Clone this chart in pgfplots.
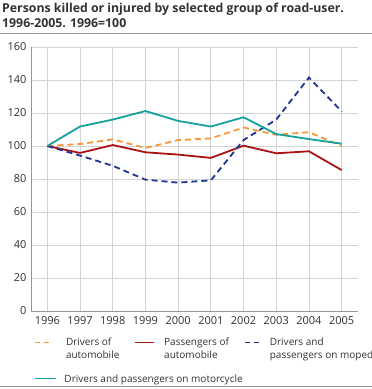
\documentclass[border=0pt]{standalone}
\usepackage{fontspec}
\setmainfont{Open Sans}
\usepackage{pgfplots}
\pgfplotsset{compat=1.18}
\definecolor{cOrange}{RGB}{247,150,52}
\definecolor{cRed}{RGB}{168,20,20}
\definecolor{cBlue}{RGB}{32,52,148}
\definecolor{cTeal}{RGB}{22,160,160}
\definecolor{cGrid}{RGB}{212,212,212}
\definecolor{cRule}{RGB}{150,150,150}
\definecolor{cText}{RGB}{50,50,50}
\newcommand{\two}[2]{\vtop{\hbox{#1}\hbox{#2}}}
\begin{document}
\begin{tikzpicture}[x=1pt,y=1pt]
\useasboundingbox (0,-389) rectangle (372,0);
\node[anchor=north west, align=left, inner sep=0pt, font=\bfseries\fontsize{12.3}{15.5}\selectfont, text=cText] at (2,-2.5) {Persons killed or injured by selected group of road-user.\\1996-2005. 1996=100};
\draw[cRule, line width=1pt] (0,-33) -- (372,-33);
\draw[cRule, line width=1pt] (0,-386) -- (372,-386);
\begin{axis}[
  at={(31pt,-311pt)}, anchor=south west,
  scale only axis, width=327pt, height=264pt,
  xmin=1995.5, xmax=2005.5, ymin=0, ymax=160,
  xtick={1996,...,2005}, ytick={0,20,...,160},
  axis x line*=bottom, axis y line*=left,
  axis line style={cRule, line width=0.8pt, -},
  grid=major, grid style={cGrid, line width=0.8pt},
  major tick length=0pt,
  /pgf/number format/assume math mode=true,
  /pgf/number format/1000 sep={},
  tick label style={font=\fontsize{11}{13}\selectfont, text=cText},
  xticklabel style={yshift=-2pt},
  yticklabel style={xshift=-1pt},
  legend columns=3,
  legend style={at={(0,-0.095)}, anchor=north west, draw=none, fill=none,
    font=\fontsize{10}{12.5}\selectfont, text=cText,
    nodes={anchor=base west, inner sep=0pt},
    /tikz/every odd column/.append style={column sep=9pt},
    /tikz/every even column/.append style={column sep=15pt},
    row sep=27pt},
]
\addplot[cOrange, line width=1.8pt, dash pattern=on 6pt off 4pt,
  legend image code/.code={\draw[cOrange, line width=1.8pt, dash pattern=on 5pt off 4pt] (0pt,3.5pt) -- (15pt,3.5pt);}] coordinates {
(1996,100) (1997,101.2) (1998,104) (1999,98.8) (2000,103.6) (2001,104.6) (2002,111.2) (2003,106.8) (2004,108.4) (2005,100)};
\addlegendentry{\two{Drivers of}{automobile}}
\addplot[cRed, line width=1.8pt,
  legend image code/.code={\draw[cRed, line width=1.8pt] (0pt,3.5pt) -- (19pt,3.5pt);}] coordinates {
(1996,100) (1997,95.8) (1998,100.6) (1999,96.2) (2000,94.8) (2001,92.8) (2002,100.2) (2003,95.6) (2004,96.8) (2005,85.4)};
\addlegendentry{\two{Passengers of}{automobile}}
\addplot[cBlue, line width=1.8pt, dash pattern=on 6pt off 4pt,
  legend image code/.code={\draw[cBlue, line width=1.8pt, dash pattern=on 5pt off 4pt] (0pt,3.5pt) -- (15pt,3.5pt);}] coordinates {
(1996,100) (1997,94.2) (1998,88) (1999,79.6) (2000,77.8) (2001,79.2) (2002,103.6) (2003,116) (2004,141.5) (2005,121)};
\addlegendentry{\two{Drivers and}{passengers on moped}}
\addplot[cTeal, line width=1.8pt,
  legend image code/.code={\draw[cTeal, line width=1.8pt] (0pt,3.5pt) -- (21pt,3.5pt);}] coordinates {
(1996,100) (1997,111.8) (1998,116) (1999,121.2) (2000,115.2) (2001,111.8) (2002,117.4) (2003,107.2) (2004,104.2) (2005,101.4)};
\addlegendentry{\makebox[0pt][l]{\hspace*{-2pt}Drivers and passengers on motorcycle}}
\end{axis}
\end{tikzpicture}
\end{document}
